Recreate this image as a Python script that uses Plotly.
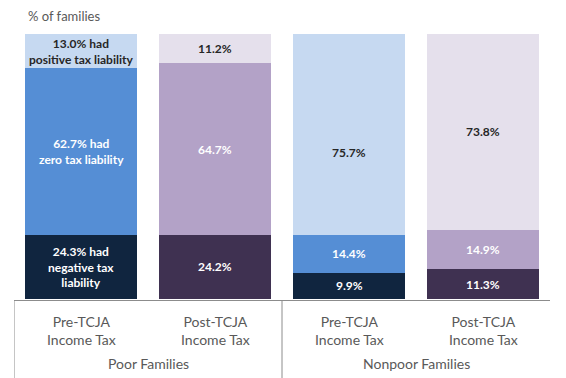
import plotly.graph_objects as go

# Data
bar_labels = ["Pre-TCJA<br>Income Tax", "Post-TCJA<br>Income Tax", "Pre-TCJA<br>Income Tax", "Post-TCJA<br>Income Tax"]
groups = ["Poor Families", "Nonpoor Families"]
negative = [24.3, 24.2, 9.9, 11.3]
zero = [62.7, 64.7, 14.4, 14.9]
positive = [13.0, 11.2, 75.7, 73.8]

neg_text = ["24.3% had<br>negative tax<br>liability", "24.2%", "9.9%", "11.3%"]
zero_text = ["62.7% had<br>zero tax liability", "64.7%", "14.4%", "14.9%"]
pos_text = ["13.0% had<br>positive tax liability", "11.2%", "75.7%", "73.8%"]

neg_colors = ["#10253F", "#3F3151", "#10253F", "#3F3151"]
zero_colors = ["#558ED5", "#B3A2C7", "#558ED5", "#B3A2C7"]
pos_colors = ["#C6D9F1", "#E5E0EC", "#C6D9F1", "#E5E0EC"]

x = list(range(len(bar_labels)))
FONT = "Lato, 'Open Sans', sans-serif"

# page body has an 8px margin; compensate so the chart lands where the reference has it
OFF = 8
W, H = 566, 378
ML, MT, MR, MB = 14 - OFF, 34 - OFF, 16 + OFF, 79 + OFF
PH = H - MT - MB

fig = go.Figure()
for vals, cols in [(negative, neg_colors), (zero, zero_colors), (positive, pos_colors)]:
    fig.add_trace(go.Bar(x=x, y=vals, marker=dict(color=cols, line=dict(width=0)),
                         width=0.83, hoverinfo="skip", showlegend=False))

annotations = []
for i in x:
    segs = [(negative[i], neg_text[i], "white", 0), (zero[i], zero_text[i], "white", 0),
            (positive[i], pos_text[i], "#262626", -18 if i == 2 else 0)]
    base = 0
    for v, t, c, ys in segs:
        annotations.append(dict(x=i, y=base + v / 2, xref="x", yref="y", text="<b>" + t + "</b>",
                                showarrow=False, font=dict(family=FONT, size=12, color=c),
                                align="center", yanchor="middle", yshift=ys))
        base += v
    annotations.append(dict(x=i, y=-31 / PH, xref="x", yref="paper", text=bar_labels[i],
                            showarrow=False, font=dict(family=FONT, size=14, color="#595959"),
                            align="center", yanchor="middle", xanchor="center"))

for g, gi in enumerate(groups):
    annotations.append(dict(x=0.5 + 2 * g, y=-64 / PH, xref="x", yref="paper", text=gi,
                            showarrow=False, yanchor="middle", xanchor="center",
                            font=dict(family=FONT, size=14, color="#595959")))

annotations.append(dict(x=(26 - OFF - ML) / (W - ML - MR), y=1 + (MT - 8) / PH, xref="paper", yref="paper",
                        text="% of families", showarrow=False,
                        font=dict(family=FONT, size=13, color="#595959"),
                        xanchor="left", yanchor="middle"))

line = dict(color="#8C8C8C", width=1)
yb = -1.5 / PH
ybot = -(MB + 5) / PH
shapes = [
    dict(type="line", xref="x", yref="paper", x0=-0.5, x1=3.515, y0=yb, y1=yb, line=line),
    dict(type="line", xref="x", yref="paper", x0=-0.5, x1=-0.5, y0=yb, y1=ybot, line=line),
    dict(type="line", xref="x", yref="paper", x0=1.5, x1=1.5, y0=yb, y1=ybot, line=line),
    dict(type="line", xref="x", yref="paper", x0=3.515, x1=3.515, y0=yb, y1=ybot, line=line),
]

fig.update_layout(
    barmode="stack",
    width=W, height=H,
    margin=dict(l=ML, r=MR, t=MT, b=MB),
    paper_bgcolor="white", plot_bgcolor="white",
    xaxis=dict(range=[-0.5, 3.5], showticklabels=False, showgrid=False, zeroline=False, showline=False),
    yaxis=dict(range=[0, 100], showticklabels=False, showgrid=False, zeroline=False, showline=False),
    annotations=annotations,
    shapes=shapes,
)

fig.write_html("out.html")
